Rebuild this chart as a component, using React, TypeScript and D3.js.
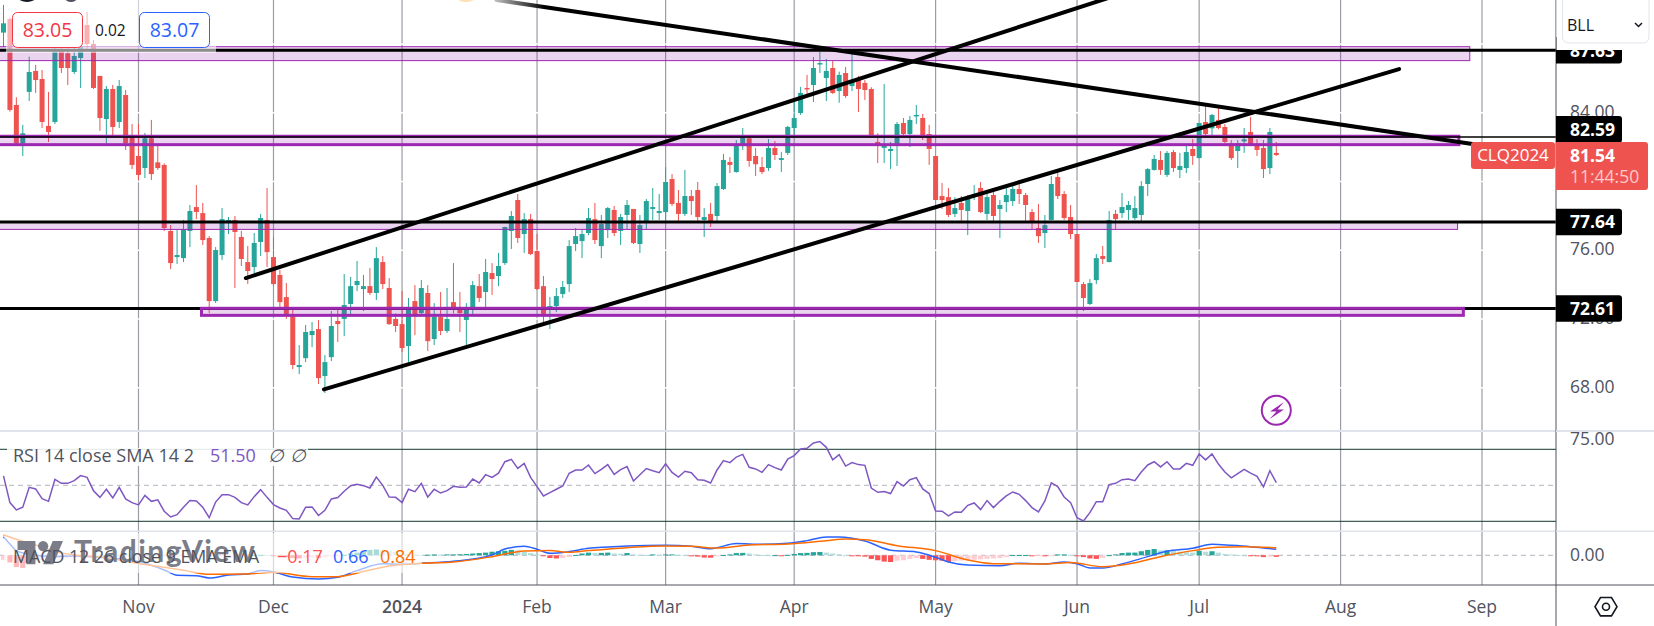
import React from "react";
import * as d3 from "d3";

const W = 1654, H = 626;
const FONT = "'Open Sans', 'Noto Sans', sans-serif";

const opens = [
88.66,89.45,84.45,82.22,85.21,86.43,85.96,83.23,83.46,87.65,
87.46,86.37,87.18,89.10,88.00,86.14,83.63,85.38,83.46,85.03,
82.61,81.48,80.78,82.51,81.11,80.96,77.12,75.60,75.54,77.12,
78.51,78.16,76.71,73.04,75.72,77.66,77.76,76.77,75.31,75.02,
76.48,77.76,75.60,74.56,73.27,72.23,69.20,69.72,71.06,71.41,
68.68,69.78,71.88,72.00,72.87,73.97,73.74,73.91,73.51,75.31,
73.80,72.00,71.70,70.42,73.04,72.34,73.51,70.83,72.11,71.30,
72.98,72.52,71.94,72.52,73.91,73.57,74.67,74.50,75.25,77.12,
78.92,76.94,77.81,75.95,73.91,72.63,72.75,73.45,74.03,76.36,
76.53,77.00,77.81,76.24,77.17,78.34,77.12,78.05,78.40,76.36,
77.70,78.40,78.16,78.22,80.14,78.75,78.11,79.15,79.50,77.76,
78.11,77.99,79.56,81.13,80.55,82.18,82.51,81.48,80.84,80.78,
81.95,81.25,81.66,83.11,83.98,85.44,85.61,86.84,86.02,86.60,
85.26,86.31,85.55,85.90,85.73,85.38,82.30,81.95,81.77,82.18,
83.40,82.76,83.81,83.69,82.76,81.48,79.15,79.09,78.11,78.75,
78.28,79.11,79.62,78.11,79.21,78.40,78.80,78.86,79.56,79.21,
78.22,77.29,77.00,77.76,80.26,79.27,77.93,76.94,74.03,72.87,
74.26,75.66,75.31,78.11,78.16,78.34,77.87,78.05,79.85,80.67,
81.25,80.38,81.71,80.67,80.78,81.89,81.36,83.46,83.09,83.58,
83.17,82.22,81.77,82.33,82.88,82.18,81.95,80.78,81.66];

const highs = [
90.27,89.55,84.90,83.29,87.26,86.78,86.49,85.21,87.84,87.75,
87.75,87.75,87.94,89.86,88.23,86.14,85.55,85.61,85.90,85.32,
83.34,83.34,82.82,83.58,82.12,81.05,77.46,77.17,77.76,78.63,
79.79,78.75,76.82,76.18,78.45,77.93,77.99,77.12,76.24,77.00,
78.11,79.62,76.77,74.85,74.09,72.52,70.48,71.65,71.82,71.94,
69.90,72.46,72.52,74.61,74.44,75.37,74.56,74.96,76.18,75.66,
74.38,72.32,73.62,73.22,73.97,74.26,73.97,72.92,73.57,73.80,
75.25,73.57,72.92,74.21,74.61,75.49,75.25,75.84,77.37,78.28,
79.27,78.16,78.11,76.94,74.50,73.27,73.80,74.21,76.59,77.29,
77.23,78.45,78.75,78.05,78.51,78.57,78.11,78.92,78.40,78.05,
78.98,79.62,79.27,80.84,80.43,79.50,80.67,79.50,79.97,78.45,
78.75,79.91,81.60,81.42,82.41,83.11,82.61,81.95,81.42,82.47,
82.35,81.71,83.23,84.74,85.50,86.20,87.24,87.53,87.13,87.01,
86.39,86.66,87.55,86.14,85.90,85.48,82.80,85.67,82.30,83.46,
83.69,83.81,84.45,83.93,83.29,81.48,79.91,79.62,79.09,79.15,
79.21,79.79,79.97,79.27,79.50,78.92,79.68,79.73,80.08,79.33,
78.40,78.69,78.05,80.32,80.51,79.44,78.63,76.94,74.15,74.32,
75.78,76.24,78.28,78.34,79.33,78.86,79.15,80.02,80.78,81.54,
81.77,81.77,81.83,81.66,82.06,82.47,83.40,84.39,83.93,84.31,
83.34,82.41,82.41,83.11,83.75,82.47,82.41,83.11,82.30];

const lows = [
87.84,84.06,82.18,81.48,84.68,85.15,83.11,82.30,83.34,86.31,
85.61,86.25,85.44,87.71,85.38,82.94,82.22,82.70,83.11,81.83,
80.72,80.08,80.20,80.08,80.67,77.12,74.90,75.20,75.31,76.18,
77.81,76.30,72.34,72.93,75.43,76.94,73.80,75.08,74.03,74.61,
75.66,75.02,73.91,72.69,72.00,69.08,68.79,69.49,70.36,68.21,
67.69,69.55,70.66,71.00,72.23,73.62,72.46,73.39,73.10,73.74,
71.65,71.24,70.07,69.49,71.06,72.27,70.13,70.48,71.06,71.18,
72.32,71.24,70.48,72.29,72.98,72.63,73.39,73.91,75.14,76.07,
76.42,75.84,75.72,73.68,71.82,71.41,72.40,73.22,73.57,75.95,
75.54,76.88,76.36,75.54,76.71,76.82,76.30,77.23,76.36,75.84,
77.23,77.76,77.76,77.76,78.57,77.70,77.99,78.05,77.70,76.77,
77.35,77.70,79.50,80.49,80.51,81.83,80.86,80.32,80.43,80.61,
81.25,80.55,81.54,82.70,83.87,84.97,84.62,86.31,84.68,85.09,
84.58,84.86,85.26,84.04,84.74,82.61,81.07,81.07,80.72,80.90,
82.70,82.00,83.34,82.41,80.96,78.92,78.40,77.93,77.93,77.70,
76.88,78.92,78.16,77.76,77.70,76.71,78.22,78.57,78.69,77.70,
77.23,76.42,76.13,77.72,78.98,77.76,76.65,74.15,72.46,72.81,
74.03,75.20,75.29,77.23,77.87,77.76,77.76,77.66,79.15,80.63,
80.38,80.26,80.55,80.20,80.49,80.96,81.36,82.70,82.70,83.03,
82.22,81.25,80.78,81.66,82.12,81.48,80.20,80.43,81.48];

const closes = [
89.20,84.16,82.22,82.80,86.37,85.90,83.46,82.88,87.65,86.60,
86.60,87.30,87.84,88.00,85.44,83.69,85.38,83.17,85.55,82.22,
80.96,80.38,82.51,80.43,80.78,77.29,75.25,75.72,77.21,78.28,
78.22,76.59,73.04,76.01,77.81,77.76,77.06,75.49,74.79,76.42,
77.87,75.89,74.03,72.98,72.23,69.32,69.32,71.24,71.30,68.56,
69.49,71.59,71.70,72.81,73.91,74.21,73.91,73.51,75.54,74.03,
71.70,71.59,70.31,72.52,72.23,73.80,70.71,72.13,71.30,72.00,
72.52,72.34,72.52,73.97,73.22,74.73,74.32,75.08,77.35,77.99,
76.71,77.81,75.78,73.74,72.29,72.75,73.33,73.86,76.24,76.82,
76.94,77.87,76.59,77.52,78.45,77.00,77.93,78.63,76.42,77.46,
78.86,78.51,78.28,79.97,78.69,78.11,79.15,78.86,77.93,77.93,
77.64,79.73,81.25,80.96,82.12,82.64,81.19,81.00,80.55,81.95,
81.54,81.36,83.17,83.69,85.15,85.38,86.60,86.89,86.43,85.15,
86.20,84.97,85.90,85.38,85.32,82.64,82.18,82.18,81.89,83.34,
82.76,83.58,83.87,82.64,81.89,78.92,78.92,78.05,78.45,78.34,
78.98,79.27,78.22,79.09,77.99,78.63,79.21,79.56,79.27,78.63,
77.70,76.82,77.46,79.85,79.15,77.87,76.94,74.15,73.22,74.09,
75.54,75.49,77.76,77.81,78.51,78.63,78.45,79.73,80.72,81.31,
80.67,81.66,80.78,80.90,81.71,81.48,83.40,82.76,83.87,83.11,
82.30,81.36,82.22,82.45,82.18,81.83,80.72,82.88,81.54];

const rsiValues = [
55.2,40.4,36.3,37.8,48.9,48.0,42.6,41.1,53.3,51.1,
51.1,52.6,55.4,54.4,47.0,43.3,47.8,43.0,48.9,42.4,
40.4,39.1,44.4,41.1,41.9,35.6,32.4,33.7,37.8,41.5,
41.3,37.8,32.0,40.7,44.8,44.8,43.3,40.4,39.1,43.7,
47.6,43.3,39.3,37.4,36.1,31.5,31.3,37.8,38.0,33.2,
36.1,42.4,43.2,46.7,49.8,50.6,49.8,48.5,54.6,50.0,
43.5,43.3,40.4,47.8,46.5,51.1,43.5,47.8,45.7,47.0,
49.4,48.9,49.1,53.5,51.3,55.9,54.4,56.7,63.1,64.4,
59.4,62.2,54.4,49.3,44.1,45.9,47.8,49.6,56.7,58.5,
58.5,61.3,56.5,58.9,61.5,56.1,58.7,60.4,52.4,55.9,
59.3,58.1,57.0,62.0,57.2,54.6,57.8,57.0,53.1,52.8,
51.3,58.5,63.7,62.6,65.7,67.2,60.0,59.1,57.2,61.5,
59.8,58.5,64.6,66.5,70.2,70.6,73.5,74.3,71.1,64.1,
67.0,60.7,62.6,61.5,61.1,48.5,46.1,46.5,45.4,52.0,
49.6,53.1,54.3,48.0,45.4,35.7,35.6,33.0,35.2,35.0,
38.9,40.2,36.5,41.5,37.6,41.1,44.1,46.3,45.0,41.5,
37.6,35.2,41.3,51.3,49.3,43.5,40.4,32.0,30.2,34.8,
40.9,40.9,50.4,51.1,53.1,53.5,52.6,57.4,61.3,63.1,
60.2,63.1,59.1,59.1,62.2,61.1,67.4,64.1,67.4,61.8,
57.4,54.1,56.5,58.9,56.8,55.0,49.1,58.1,51.5];

const histValues = [
-.5,-.8,-1.3,-1.4,-.9,-.7,-.5,-.4,-.35,-.3,
-.25,-.2,-.2,-.15,-.15,-.1,-.1,-.1,-.1,-.1,
-.1,-.1,-.1,-.1,-.1,-.1,-.2,-.15,-.1,-.1,
-.08,-.08,-.1,-.08,-.06,-.05,-.05,-.03,-.02,.02,
.05,.03,-.02,-.1,-.2,-.3,-.35,-.3,-.25,-.3,
-.25,-.15,-.05,.05,.2,.3,.5,.6,.65,.6,
.5,.4,.25,.15,.08,.05,.07,.09,.08,.1,
.1,.12,.15,.2,.25,.3,.4,.45,.5,.6,
.55,.4,.25,.1,-.1,-.3,-.35,-.3,-.2,.03,
.2,.3,.25,.27,.3,.2,.18,.25,.1,.05,
.03,.1,.05,.1,.1,.05,.02,-.03,-.15,-.25,
-.27,-.1,.03,.1,.25,.27,.2,.1,.03,.02,
.02,-.02,.05,.15,.25,.27,.35,.37,.3,.2,
.1,.02,-.03,-.1,-.15,-.4,-.55,-.7,-.75,-.6,
-.55,-.4,-.3,-.4,-.5,-.55,-.6,-.75,-.65,-.6,
-.55,-.5,-.45,-.4,-.35,-.3,-.2,.03,.03,.03,
-.05,-.03,-.1,-.05,.1,.1,.03,-.05,-.2,-.35,
-.4,-.3,.02,.1,.25,.3,.3,.45,.6,.7,
.55,.55,.5,.4,.35,.3,.5,.4,.45,.3,
.15,.1,.03,0,-.05,-.08,-.2,-.15,-.17];

const macdBars = [0,1,2,4,8,11,15,21,25,27,30,32,35,38,40,42,45,49,52,55,59,62,65,70,76,78,81,83,85,88,91,94,97,103,107,110,114,118,122,125,128,130,134,138,142,145,147,150,155,158,162,165,167,169,171,174,178,181,185,188,191,194,198];
const macdValues = [2.07,1.26,.52,.11,-.15,-.07,-.22,-.7,-1.63,-2.22,-2.26,-2.52,-2.19,-2.07,-1.7,-1.85,-2.41,-2.63,-2.44,-1.7,-.93,-1,-.89,-.67,.04,.7,1,.67,.22,.41,.78,.93,1.04,1.11,1,.74,1.3,1.22,1.33,1.63,2.04,2.04,1.59,.56,.37,-.22,-.74,-1.07,-1.15,-.89,-.96,-.74,-.93,-1.41,-1.41,-.96,-.15,.44,.78,1.22,1.11,.96,.66];
const signalBars = [0,2,5,8,11,15,21,28,32,38,42,48,52,56,60,65,70,76,81,85,88,91,97,103,107,111,116,122,128,131,134,139,145,150,154,162,166,171,175,180,185,189,193,198];
const signalValues = [2.26,1.78,1.15,.41,.04,-.2,-.9,-1.67,-2.11,-2.07,-1.89,-2.37,-2.37,-1.81,-1.19,-.89,-.74,-.15,.48,.52,.33,.52,.85,1.04,1,.81,1.15,1.26,1.63,1.81,1.74,1.07,.52,-.52,-.93,-.96,-.81,-1.26,-.96,-.15,.52,.89,.96,.84];

const monthBars = [21,42,62,83,103,123,145,167,186,208,230];
const monthLabels = ["Nov","Dec","2024","Feb","Mar","Apr","May","Jun","Jul","Aug","Sep"];
const priceTicks = [88,84,80,76,72,68];
const levelValues = [87.63,82.59,77.64,72.61];
const levelWidths = [3,1.5,3,3];
const levelTagPrices = [87.63,83.03,77.64,72.61];
const boxStart = [-1,-1,-1,30.8];
const boxEnd = [228.1,226.4,226.2,227.1];
const boxTop = [87.84,82.63,77.62,72.62];
const boxBottom = [87.03,82.14,77.21,72.21];
const boxStroke = [1,3,1,3];
const trendBars = [[37.7,173.3],[49.85,217.1],[76.7,228.5]];
const trendPrices = [[74.38,90.85],[67.9,86.54],[90.56,82.18]];

const x = d3.scaleLinear().domain([0,230]).range([3.5,1482]);
const y = d3.scaleLinear().domain([68,84]).range([387.7,112.7]);
const yRsi = d3.scaleLinear().domain([30,70]).range([521.3,449.3]);
const yMacd = d3.scaleLinear().domain([0,1]).range([555.3,546.3]);
const UP = "#26a69a", DOWN = "#ef5350", AXIS = "#50535e", GRID = "#9a9ca6", SEP = "#e0e3eb", PURPLE = "#9c27b0";

const rsiLine = d3.line<number>().x((_,i)=>x(i)).y(v=>yRsi(v));
const macdLine = d3.line<number>().x((_,i)=>x(macdBars[i])).y(v=>yMacd(v)).curve(d3.curveMonotoneX);
const sigLine = d3.line<number>().x((_,i)=>x(signalBars[i])).y(v=>yMacd(v)).curve(d3.curveMonotoneX);

function histColor(i:number){
  const v = histValues[i], p = i>0 ? histValues[i-1] : v;
  if (v>=0) return v>=p ? "#26a69a" : "#b2dfdb";
  return v<p ? "#ff5252" : "#ffcdd2";
}

function Tag({y:cy,label}:{y:number,label:string}){
  return <g>
    <path d={`M1556 ${cy-13.3}H1619a3 3 0 0 1 3 3V${cy+10.3}a3 3 0 0 1 -3 3H1556Z`} fill="#000"/>
    <text x={1570} y={cy+6.2} fontSize={17.5} fontWeight={700} fill="#fff">{label}</text>
  </g>;
}

function Box({i}:{i:number}){
  return <rect x={x(boxStart[i])} width={x(boxEnd[i])-x(boxStart[i])} y={y(boxTop[i])} height={y(boxBottom[i])-y(boxTop[i])}
    fill={PURPLE} fillOpacity={0.2} stroke={PURPLE} strokeWidth={boxStroke[i]}/>;
}

export default function App(){
  return (
    <svg width={W} height={H} viewBox={`0 0 ${W} ${H}`} fontFamily={FONT}
      style={{position:"absolute",left:0,top:0,display:"block",background:"#fff"}}>
      <defs>
        <linearGradient id="fade" gradientUnits="userSpaceOnUse" x1={496} x2={545} y1={0} y2={0}>
          <stop offset="0" stopColor="#bbb"/><stop offset="1" stopColor="#000"/>
        </linearGradient>
        <clipPath id="plot"><rect x={0} y={0} width={1556} height={431}/></clipPath>
      </defs>

      {/* vertical grid */}
      {monthBars.map((b,i)=><line key={i} x1={x(b)} x2={x(b)} y1={0} y2={585} stroke={GRID} strokeWidth={1.2}/>)}
      {/* horizontal grid */}
      {priceTicks.map(t=><line key={t} x1={0} x2={1556} y1={y(t)} y2={y(t)} stroke="#fff" strokeWidth={1.5}/>)}

      {/* pane separators */}
      <line x1={0} x2={W} y1={431} y2={431} stroke={SEP} strokeWidth={2}/>
      <line x1={0} x2={W} y1={531.3} y2={531.3} stroke={SEP} strokeWidth={1.5}/>

      {/* candles */}
      <g clipPath="url(#plot)">
        {opens.map((o,i)=>{
          const c = closes[i], col = c>=o ? UP : DOWN;
          const t = y(Math.max(o,c)), b = y(Math.min(o,c));
          return <g key={i}>
            <line x1={x(i)} x2={x(i)} y1={y(highs[i])} y2={y(lows[i])} stroke={col} strokeWidth={1}/>
            <rect x={x(i)-2.5} width={5} y={t} height={Math.max(1.5,b-t)} fill={col}/>
          </g>;
        })}
      </g>

      {/* boxes under the levels */}
      <Box i={0}/><Box i={1}/><Box i={2}/>

      {/* horizontal levels */}
      {levelValues.map((v,i)=><line key={v} x1={0} x2={1556} y1={y(v)} y2={y(v)} stroke="#000" strokeWidth={levelWidths[i]}/>)}

      {/* box over its level */}
      <Box i={3}/>

      {/* trend lines */}
      {trendBars.map((tb,i)=><line key={i} x1={x(tb[0])} y1={y(trendPrices[i][0])} x2={x(tb[1])} y2={y(trendPrices[i][1])}
        stroke={i===2 ? "url(#fade)" : "#000"} strokeWidth={4} strokeLinecap="round"/>)}

      {/* RSI pane */}
      <line x1={0} x2={1556} y1={yRsi(70)} y2={yRsi(70)} stroke="#123a2f" strokeWidth={1}/>
      <line x1={0} x2={1556} y1={yRsi(30)} y2={yRsi(30)} stroke="#123a2f" strokeWidth={1}/>
      <line x1={0} x2={1556} y1={yRsi(50)} y2={yRsi(50)} stroke="#b2b5be" strokeWidth={1} strokeDasharray="5 4"/>
      <rect x={7} y={448} width={301} height={18} fill="#fff" fillOpacity={0.88}/>
      <path d={rsiLine(rsiValues)!} fill="none" stroke="#7e57c2" strokeWidth={1.5}/>

      {/* MACD pane */}
      <line x1={0} x2={1556} y1={yMacd(0)} y2={yMacd(0)} stroke="#b2b5be" strokeWidth={1} strokeDasharray="5 4"/>
      {histValues.map((v,i)=><rect key={i} x={x(i)-2.6} width={5.2} y={Math.min(yMacd(v),yMacd(0))} height={Math.max(1,Math.abs(yMacd(v)-yMacd(0)))} fill={histColor(i)}/>)}
      <path d={macdLine(macdValues)!} fill="none" stroke="#2962ff" strokeWidth={1.5}/>
      <path d={sigLine(signalValues)!} fill="none" stroke="#ff6d00" strokeWidth={1.5}/>
      <rect x={4} y={533} width={418} height={40} fill="#fff" fillOpacity={0.6}/>

      {/* watermark */}
      <g transform="translate(17.5,536) scale(1.28)" fill="#7b7e88">
        <path d="M14 22H7V11H0V4h14v18zM28 22h-8l7.5-18h8L28 22z"/><circle cx={20} cy={8} r={4}/>
      </g>
      <text x={74} y={562} fontFamily="Lato, sans-serif" fontSize={30} letterSpacing={1.5} fontWeight={700} fill="#7b7e88">TradingView</text>

      {/* pane legends */}
      <text x={13} y={462} fontSize={18} fill="#50535e">RSI 14 close SMA 14 2</text>
      <text x={210} y={462} fontSize={18} fill="#7e57c2">51.50</text>
      <text x={268} y={462} fontSize={18} fontStyle="italic" fill="#50535e">∅</text>
      <text x={290} y={462} fontSize={18} fontStyle="italic" fill="#50535e">∅</text>
      <text x={13} y={563} fontSize={17.8} fill="#50535e">MACD 12 26 close 9 EMA EMA</text>
      <text x={277} y={563} fontSize={18} fill="#ff5252">−0.17</text>
      <text x={333} y={563} fontSize={18} fill="#2962ff">0.66</text>
      <text x={380} y={563} fontSize={18} fill="#ff6d00">0.84</text>

      {/* top-left overlay & price legend */}
      <rect x={6} y={0} width={210} height={53} fill="#fff" fillOpacity={0.55}/>
      <rect x={12.5} y={12.5} width={70} height={35} rx={5} fill="#fff" fillOpacity={0.9} stroke="#f23645"/>
      <text x={47.5} y={36.5} fontSize={19.5} textAnchor="middle" fill="#f23645">83.05</text>
      <text x={95} y={36} fontSize={15.5} fill="#131722">0.02</text>
      <rect x={139.5} y={12.5} width={70} height={35} rx={5} fill="#fff" fillOpacity={0.9} stroke="#2962ff"/>
      <text x={174.5} y={36.5} fontSize={19.5} textAnchor="middle" fill="#2962ff">83.07</text>
      <ellipse cx={27} cy={-3} rx={9} ry={5} fill="#131722"/>
      <ellipse cx={71} cy={-2} rx={6} ry={4} fill="#50535e"/>
      <ellipse cx={466} cy={-1} rx={8} ry={3} fill="#ffe0b2"/>

      {/* right axis */}
      <rect x={1556.5} y={0} width={W-1556} height={H} fill="#fff"/>
      <line x1={1556} x2={1556} y1={0} y2={H} stroke={AXIS} strokeWidth={1}/>
      <line x1={0} x2={W} y1={585} y2={585} stroke={AXIS} strokeWidth={1}/>
      <line x1={1556} x2={W} y1={431} y2={431} stroke={SEP} strokeWidth={2}/>
      <line x1={1556} x2={W} y1={531.3} y2={531.3} stroke={SEP} strokeWidth={1.5}/>
      {priceTicks.map(t=><text key={t} x={1570} y={y(t)+5} fontSize={17.5} fill={AXIS}>{t.toFixed(2)}</text>)}
      <text x={1570} y={yRsi(75)+5} fontSize={17.5} fill={AXIS}>75.00</text>
      <text x={1570} y={yMacd(0)+6} fontSize={17.5} fill={AXIS}>0.00</text>

      {levelValues.map((v,i)=><Tag key={v} y={y(levelTagPrices[i])} label={v.toFixed(2)}/>)}

      <path d="M1556 142H1645a3 3 0 0 1 3 3V187a3 3 0 0 1 -3 3H1556Z" fill={DOWN}/>
      <text x={1570} y={162} fontSize={17.5} fontWeight={700} fill="#fff">{closes[closes.length-1].toFixed(2)}</text>
      <text x={1570} y={183} fontSize={17.5} fill="#fff" fillOpacity={0.7}>11:44:50</text>
      <rect x={1471} y={142} width={84} height={27} rx={3} fill={DOWN}/>
      <text x={1513} y={161} fontSize={17} textAnchor="middle" fill="#fff">CLQ2024</text>

      {/* selector panel hides the top of the first tag */}
      <rect x={1556.5} y={0} width={W-1556} height={50} fill="#fff"/>
      <rect x={1562.5} y={-8} width={86.5} height={51} rx={6} fill="#fff" stroke={SEP}/>
      <text x={1567} y={30.5} fontSize={16} fill="#131722">BLL</text>
      <path d="M1635 23l3.5 3.5 3.5-3.5" fill="none" stroke="#131722" strokeWidth={1.5}/>

      {/* time axis */}
      {monthLabels.map((m,i)=><text key={m} x={x(monthBars[i])} y={612.5} fontSize={17.5} fontWeight={m==="2024"?600:400} textAnchor="middle" fill={AXIS}>{m}</text>)}

      {/* bolt icon */}
      <circle cx={1276.3} cy={410.3} r={14.5} fill="#fff" stroke={PURPLE} strokeWidth={2}/>
      <path d="M1284 402l-14 9.5h6.5l-7 7.5 14.5-9.5h-6.5z" fill={PURPLE}/>

      {/* settings icon */}
      <path d="M1595 606.7l5.5-9.2h11l5.5 9.2-5.5 9.2h-11z" fill="none" stroke="#131722" strokeWidth={1.6}/>
      <circle cx={1606} cy={606.7} r={3.5} fill="none" stroke="#131722" strokeWidth={1.6}/>
    </svg>
  );
}
